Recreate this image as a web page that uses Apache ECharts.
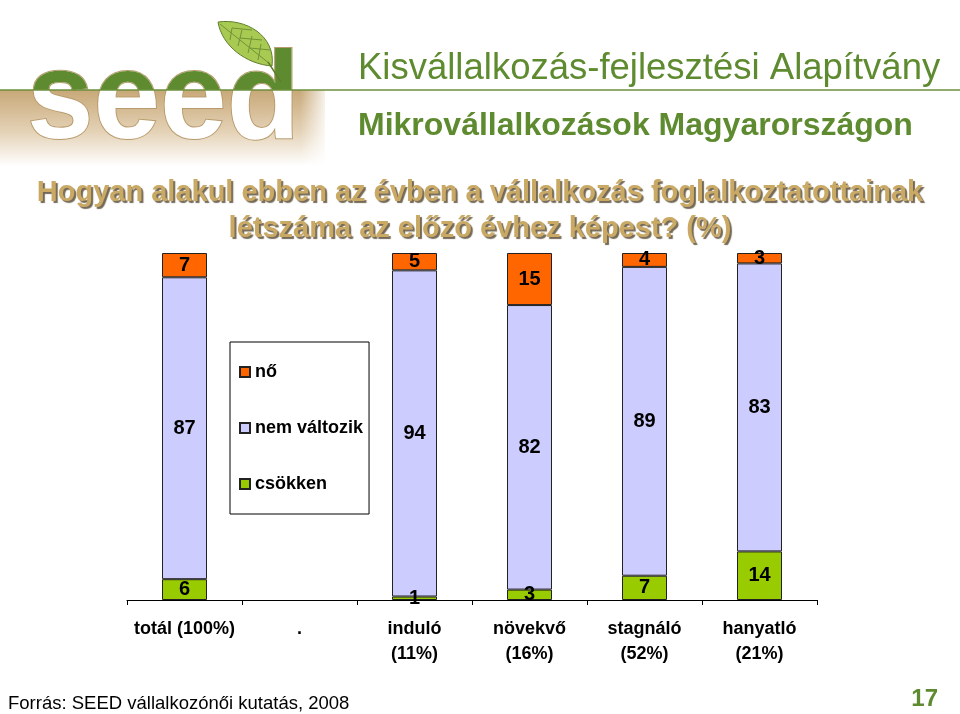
<!DOCTYPE html>
<html><head><meta charset="utf-8">
<script src="https://cdn.jsdelivr.net/npm/echarts@6/dist/echarts.min.js"></script>
<style>html,body{margin:0;padding:0;background:#fff}#c{width:960px;height:714px}</style>
</head><body><div id="c"></div>
<script>
const categories = ['totál (100%)', '.', 'induló\n(11%)', 'növekvő\n(16%)', 'stagnáló\n(52%)', 'hanyatló\n(21%)'];
const legendOrder = ['nő', 'nem változik', 'csökken'];
const csokken = [6, null, 1, 3, 7, 14];
const nemValtozik = [87, null, 94, 82, 89, 83];
const no = [7, null, 5, 15, 4, 3];

const FF = '"Liberation Sans", Arial, sans-serif';
const chart = echarts.init(document.getElementById('c'), null, {renderer: 'canvas'});

function barSeries(name, data, color) {
  return {
    name: name, type: 'bar', stack: 'all', data: data, barWidth: 45,
    itemStyle: {color: color, borderColor: '#222', borderWidth: 1},
    label: {show: true, position: 'inside', color: '#000', fontFamily: FF, fontWeight: 'bold', fontSize: 20},
    emphasis: {disabled: true}
  };
}

chart.setOption({
  animation: false,
  backgroundColor: '#fff',
  title: [
    {text: 'Kisvállalkozás-fejlesztési Alapítvány', left: 358, top: 50, padding: 0,
     textStyle: {fontFamily: FF, fontSize: 36.5, fontWeight: 'normal', color: '#5f8b30'}},
    {text: 'Mikrovállalkozások Magyarországon', left: 358, top: 110, padding: 0,
     textStyle: {fontFamily: FF, fontSize: 32, fontWeight: 'bold', color: '#5f8b30'}},
    {text: 'Hogyan alakul ebben az évben a vállalkozás foglalkoztatottainak\nlétszáma az előző évhez képest? (%)',
     left: 480, top: 175, padding: 0, textAlign: 'center',
     textStyle: {fontFamily: FF, fontSize: 29, fontWeight: 'bold', color: '#c9a964', lineHeight: 36, align: 'center',
       textShadowColor: 'rgba(70,55,30,0.75)', textShadowOffsetX: 2, textShadowOffsetY: 2, textShadowBlur: 1}},
    {text: 'Forrás: SEED vállalkozónői kutatás, 2008', left: 8, top: 694, padding: 0,
     textStyle: {fontFamily: FF, fontSize: 18.5, fontWeight: 'normal', color: '#000'}},
    {text: '17', right: 22, top: 687, padding: 0,
     textStyle: {fontFamily: FF, fontSize: 24, fontWeight: 'bold', color: '#5f8b30'}}
  ],
  legend: {
    data: legendOrder, orient: 'vertical', left: 230, top: 342,
    padding: [21, 6, 21, 9], itemGap: 38, itemWidth: 10, itemHeight: 10, itemTextGap: 7,
    borderColor: '#000', borderWidth: 1, icon: 'rect',
    textStyle: {fontFamily: FF, fontSize: 18, fontWeight: 'bold', color: '#000'},
    selectedMode: false
  },
  grid: {left: 127, right: 143, top: 253, bottom: 114, containLabel: false},
  xAxis: {
    type: 'category', data: categories,
    axisLine: {lineStyle: {color: '#000', width: 1}},
    axisTick: {show: true, length: 5, lineStyle: {color: '#000'}},
    axisLabel: {interval: 0, margin: 17, color: '#000', fontFamily: FF, fontWeight: 'bold', fontSize: 18, lineHeight: 25}
  },
  yAxis: {type: 'value', min: 0, max: 100, show: false},
  series: [
    barSeries('csökken', csokken, '#99cc00'),
    barSeries('nem változik', nemValtozik, '#ccccff'),
    barSeries('nő', no, '#ff6600')
  ]
});

// Logo
const zr = chart.getZr();
const G = echarts.graphic;
const bg = new G.Rect({
  shape: {x: 0, y: 90, width: 325, height: 76},
  style: {fill: new G.LinearGradient(0, 0, 0, 1, [
    {offset: 0, color: '#c8a878'}, {offset: 0.55, color: '#e4d2b6'}, {offset: 1, color: '#ffffff'}])},
  silent: true, z: 10, z2: 1
});
const fade = new G.Rect({
  shape: {x: 300, y: 90, width: 30, height: 76},
  style: {fill: new G.LinearGradient(0, 0, 1, 0, [
    {offset: 0, color: 'rgba(255,255,255,0)'}, {offset: 1, color: 'rgba(255,255,255,1)'}])},
  silent: true, z: 10, z2: 2
});
const textCommon = {text: 'seed', x: 27, y: 104, font: 'bold 124px "Liberation Sans", Arial, sans-serif', align: 'left', verticalAlign: 'middle'};
const white = new G.Text({
  style: Object.assign({}, textCommon, {fill: '#ffffff', stroke: '#b89b6c', lineWidth: 2}),
  scaleX: 0.965, originX: 27, originY: 104, silent: true, z: 10, z2: 3
});
const green = new G.Text({
  style: Object.assign({}, textCommon, {fill: '#5f8b30'}),
  scaleX: 0.965, originX: 27, originY: 104, silent: true, z: 10, z2: 4
});
green.setClipPath(new G.Rect({shape: {x: -100, y: 0, width: 600, height: 90}}));
const line = new G.Line({
  shape: {x1: 0, y1: 90, x2: 960, y2: 90},
  style: {stroke: '#6b8f3c', lineWidth: 1.5}, silent: true, z: 10, z2: 5
});
const leaf = G.makePath('M218,22 C246,18 276,36 272,66 C246,64 222,46 218,22 Z', {
  style: {fill: '#a9ca52', stroke: '#5d7f2c', lineWidth: 1}, silent: true, z: 10, z2: 6
});
const veins = G.makePath('M220,24 L270,64 M232,28 L230,40 M242,30 L238,46 M252,36 L248,53 M261,44 L258,60 M232,28 L252,30 M240,38 L262,40 M250,48 L270,50',
  {style: {fill: 'none', stroke: '#6f9236', lineWidth: 1}, silent: true, z: 10, z2: 7});
const stem = new G.Line({shape: {x1: 268, y1: 62, x2: 281, y2: 82}, style: {stroke: '#5d7f2c', lineWidth: 1.5}, silent: true, z: 10, z2: 7});
[bg, fade, white, green, line, leaf, veins, stem].forEach(function (el) { zr.add(el); });
</script>
</body></html>
